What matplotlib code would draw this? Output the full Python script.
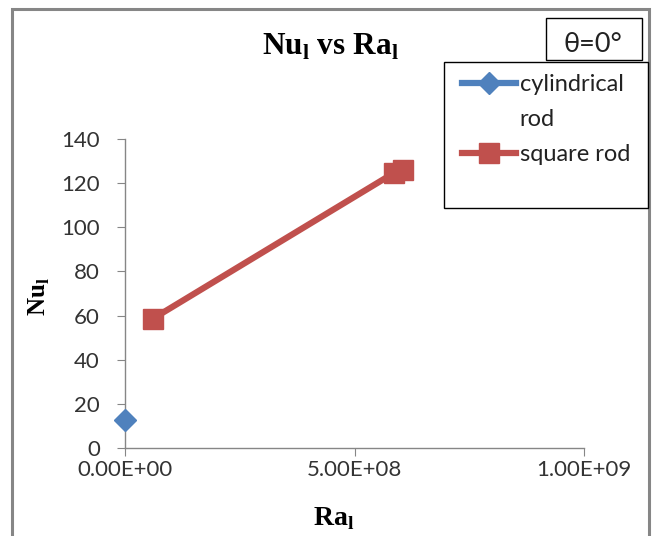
import matplotlib.pyplot as plt
from matplotlib.lines import Line2D
from matplotlib.patches import Rectangle
from matplotlib.ticker import FuncFormatter

plt.rcParams["mathtext.fontset"] = "custom"
plt.rcParams["mathtext.rm"] = "Liberation Serif"
plt.rcParams["mathtext.bf"] = "Liberation Serif:bold"

# data
cyl_ra = [0.0]
cyl_nu = [12.5]
sq_ra = [6.0e7, 5.85e8, 6.05e8]
sq_nu = [58.5, 124.5, 126.0]

x_ticks = [0, 5e8, 1e9]
y_ticks = [0, 20, 40, 60, 80, 100, 120, 140]

blue = "#4F81BD"
red = "#C0504D"
grey = "#868686"
ui_font = "Lato"
serif = "Liberation Serif"


def sci(v, pos):
    m, e = f"{v:.2E}".split("E")
    return f"{m}E{e[0]}{int(e[1:]):02d}"


fig = plt.figure(figsize=(6.55, 5.36), dpi=100)
W, H = 655, 536
ax = fig.add_axes([125 / W, 1 - 448 / H, (584 - 125) / W, (448 - 139) / H])

ax.plot(cyl_ra, cyl_nu, color=blue, lw=4.5, marker="D", ms=11,
        clip_on=False, zorder=5)
ax.plot(sq_ra, sq_nu, color=red, lw=4.5, marker="s", ms=14,
        clip_on=False, zorder=4)

ax.set_xlim(0, 1e9)
ax.set_ylim(0, 140)
ax.set_xticks(x_ticks)
ax.set_yticks(y_ticks)
ax.xaxis.set_major_formatter(FuncFormatter(sci))

for s in ["top", "right"]:
    ax.spines[s].set_visible(False)
for s in ["left", "bottom"]:
    ax.spines[s].set_color(grey)
    ax.spines[s].set_linewidth(1)
ax.tick_params(axis="both", direction="out", length=6, color=grey,
               labelsize=16, labelcolor="#333333")
ax.tick_params(axis="x", pad=3)
ax.tick_params(axis="y", pad=12)
for lab in ax.get_xticklabels() + ax.get_yticklabels():
    lab.set_family(ui_font)

fig.text(330 / W, 1 - 47 / H, r"Nu$_\mathbf{l}$ vs Ra$_\mathbf{l}$", family=serif,
         fontweight="bold", fontsize=22.5, ha="center", va="center")
fig.text(334 / W, 1 - 519 / H, r"Ra$_\mathbf{l}$", family=serif,
         fontweight="bold", fontsize=20, ha="center", va="center")
fig.text(39 / W, 1 - 297 / H, r"Nu$_\mathbf{l}$", family=serif,
         fontweight="bold", fontsize=18, ha="center", va="center", rotation=90)

# outer chart frame
fig.patches.append(Rectangle((12 / W, -0.05), (649 - 12) / W, (1 - 9 / H) + 0.05,
                             transform=fig.transFigure, fill=False,
                             edgecolor=grey, lw=2.2))
# legend box
fig.patches.append(Rectangle((444 / W, 1 - 208 / H), (648 - 444) / W, (208 - 62) / H,
                             transform=fig.transFigure, fill=False,
                             edgecolor="black", lw=1))
handles = [
    Line2D([], [], color=blue, lw=4.5, marker="D", ms=11),
    Line2D([], [], color="none"),
    Line2D([], [], color=red, lw=4.5, marker="s", ms=14),
]
labels = ["cylindrical", "rod", "square rod"]
leg = fig.legend(handles, labels, loc="upper left", bbox_to_anchor=(450 / W, 1 - 62 / H),
                 bbox_transform=fig.transFigure, frameon=False, borderpad=0,
                 handlelength=2.3, handletextpad=0.15, labelspacing=0.6,
                 prop={"family": ui_font, "size": 17})
for t in leg.get_texts():
    t.set_color("#222222")

# angle box
fig.patches.append(Rectangle((546 / W, 1 - 60 / H), (642 - 546) / W, (60 - 18) / H,
                             transform=fig.transFigure, fill=False,
                             edgecolor="black", lw=1))
fig.text(593 / W, 1 - 45 / H, "θ=0°", ha="center", va="center",
         family=ui_font, fontsize=19.5, color="#222222")

fig.savefig("out.png", dpi=100)
